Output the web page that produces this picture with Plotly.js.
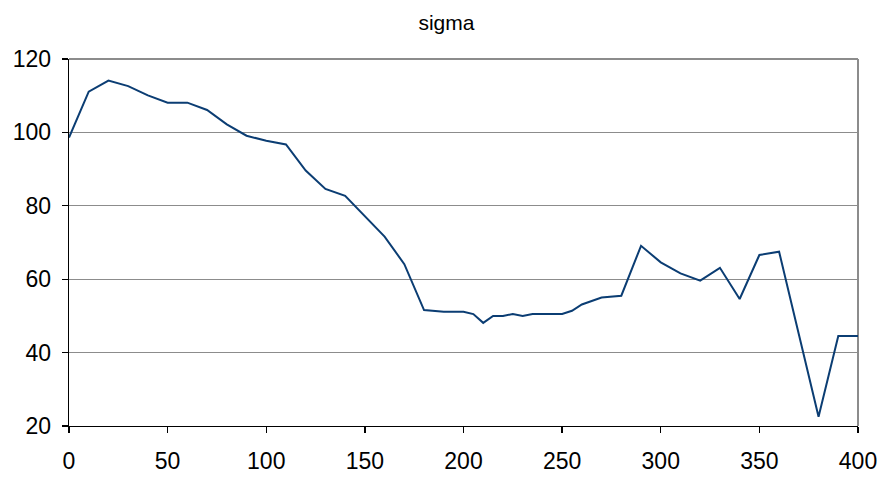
<!DOCTYPE html>
<html>
<head>
<meta charset="utf-8">
<script src="https://cdn.plot.ly/plotly-3.0.1.min.js"></script>
<style>html,body{margin:0;padding:0;background:#fff;}#chart{width:884px;height:477px;}</style>
</head>
<body>
<div id="chart"></div>
<script>
const xValues = [0, 10, 20, 30, 40, 50, 60, 70, 80, 90, 100, 110, 120, 130, 140, 150, 160, 170, 180, 190, 200, 205, 210, 215, 220, 225, 230, 235, 240, 245, 250, 255, 260, 270, 280, 290, 300, 310, 320, 330, 340, 350, 360, 370, 380, 390, 400];
const sigmaValues = [98.6, 111.1, 114.1, 112.6, 110.1, 108.1, 108.1, 106.1, 102.2, 99.1, 97.7, 96.7, 89.6, 84.6, 82.7, 77.2, 71.6, 64.1, 51.6, 51.1, 51.1, 50.5, 48.1, 50.0, 50.0, 50.5, 50.0, 50.5, 50.5, 50.5, 50.5, 51.4, 53.1, 55.0, 55.5, 69.1, 64.6, 61.6, 59.6, 63.1, 54.6, 66.6, 67.5, 45.0, 22.5, 44.5, 44.5];
const xTicks = [0, 50, 100, 150, 200, 250, 300, 350, 400];
const yTicks = [20, 40, 60, 80, 100, 120];

const trace = {
  x: xValues, y: sigmaValues, type: 'scatter', mode: 'lines',
  line: {color: '#0b3d73', width: 2}, hoverinfo: 'skip'
};
const fontFam = 'Liberation Sans, Arial, sans-serif';
const layout = {
  width: 884, height: 477,
  margin: {l: 69, r: 26, t: 59, b: 51},
  paper_bgcolor: '#fff', plot_bgcolor: '#fff',
  showlegend: false,
  title: {text: 'sigma', x: 0.505, xanchor: 'center', y: 0.952, yanchor: 'middle',
          font: {family: fontFam, size: 21, color: '#000'}},
  xaxis: {
    range: [0, 400], tickvals: xTicks, ticktext: xTicks.map(String),
    showgrid: false, zeroline: false,
    showline: true, linecolor: '#000', linewidth: 1.3,
    ticks: 'outside', ticklen: 6, tickcolor: '#000', tickwidth: 1.3,
    ticklabelstandoff: 8,
    tickfont: {family: fontFam, size: 23, color: '#000'},
    fixedrange: true
  },
  yaxis: {
    range: [20, 120], tickvals: yTicks, ticktext: yTicks.map(String),
    showgrid: true, gridcolor: '#8c8c8c', gridwidth: 1, zeroline: false,
    showline: true, linecolor: '#000', linewidth: 1.3,
    ticks: 'outside', ticklen: 6, tickcolor: '#000', tickwidth: 1.3,
    ticklabelstandoff: 6,
    tickfont: {family: fontFam, size: 23, color: '#000'},
    fixedrange: true
  },
  shapes: [
    {type: 'line', xref: 'paper', yref: 'paper', x0: 1, x1: 1, y0: 0, y1: 1,
     line: {color: '#8c8c8c', width: 2}, layer: 'below'},
    {type: 'line', xref: 'paper', yref: 'paper', x0: 0, x1: 1, y0: 1, y1: 1,
     line: {color: '#8c8c8c', width: 2}, layer: 'below'}
  ]
};
Plotly.newPlot('chart', [trace], layout, {staticPlot: true, displayModeBar: false});
</script>
</body>
</html>
